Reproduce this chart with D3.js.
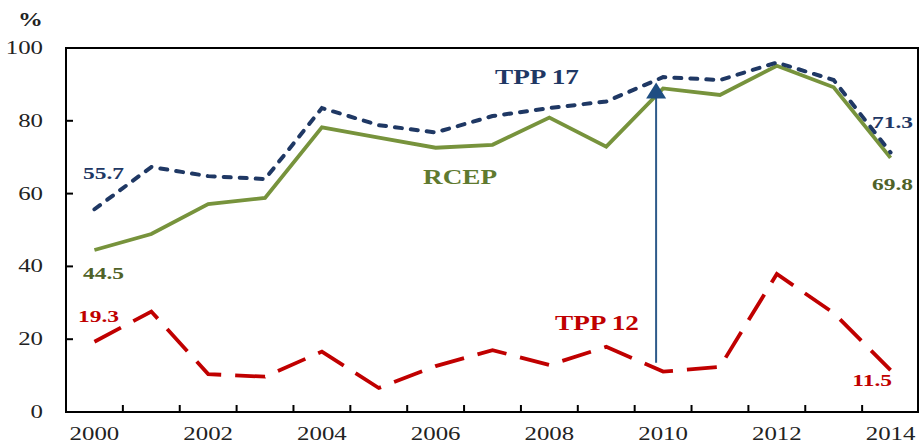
<!DOCTYPE html>
<html><head><meta charset="utf-8">
<script src="https://cdn.jsdelivr.net/npm/d3@7"></script>
<style>html,body{margin:0;padding:0;background:#fff;}svg{display:block;}</style>
</head><body>
<svg id="chart" width="920" height="444"></svg>
<script>
const years = [2000,2001,2002,2003,2004,2005,2006,2007,2008,2009,2010,2011,2012,2013,2014];
const tpp17 = [55.7,67.3,64.8,64.0,83.5,78.8,76.8,81.3,83.5,85.3,92.0,91.2,96.0,91.2,71.3];
const rcep  = [44.5,48.9,57.1,58.8,78.2,75.4,72.6,73.4,80.9,72.9,88.9,87.1,95.1,89.2,69.8];
const tpp12 = [19.3,27.6,10.4,9.7,16.6,6.6,12.6,17.0,12.9,17.9,11.1,12.4,37.9,27.2,11.5];
const xTickLabels = [2000,2002,2004,2006,2008,2010,2012,2014];
const yTicks = [0,20,40,60,80,100];
const arrowYear = 2010, arrowFrom = 13.5, arrowTo = 90.5;

const W = 920, H = 444;
const m = {left:66, right:1, top:48, bottom:32};
const svg = d3.select('#chart');
const x = d3.scaleBand().domain(years).range([m.left, W - m.right]).paddingInner(0).paddingOuter(0);
const y = d3.scaleLinear().domain([0,100]).range([H - m.bottom, m.top]);
const cx = d => x(d) + x.bandwidth()/2;
const SX = 1.38;
const serif = "'Liberation Serif','Times New Roman',serif";

function txt(xp, yp, s, opts) {
  const o = Object.assign({size:18, weight:'normal', fill:'#222', anchor:'start', sx:SX}, opts||{});
  svg.append('text')
    .attr('transform', `translate(${xp},${yp}) scale(${o.sx},1)`)
    .attr('text-anchor', o.anchor)
    .attr('font-family', serif)
    .attr('font-size', o.size)
    .attr('font-weight', o.weight)
    .attr('fill', o.fill)
    .text(s);
}

// frame
const x0 = x.range()[0], x1 = x.range()[1];
svg.append('rect').attr('x', x0).attr('y', y(100)).attr('width', x1 - x0 - 1).attr('height', y(0) - y(100))
  .attr('fill','none').attr('stroke','#000').attr('stroke-width',2);

// y ticks (inward) and labels
yTicks.forEach(v => {
  svg.append('line').attr('x1', x0).attr('x2', x0 + 7).attr('y1', y(v)).attr('y2', y(v))
    .attr('stroke','#000').attr('stroke-width',2);
  txt(43, y(v) + 6, String(v), {anchor:'end'});
});
txt(18, 26, '%', {weight:'bold', size:18});

// x ticks at band boundaries (upward)
years.slice(1).forEach(yr => {
  svg.append('line').attr('x1', x(yr)).attr('x2', x(yr)).attr('y1', y(0)).attr('y2', y(0) - 7)
    .attr('stroke','#000').attr('stroke-width',2);
});
xTickLabels.forEach(yr => txt(cx(yr), y(0) + 28, String(yr), {anchor:'middle'}));

// lines
const line = d3.line().x((d,i) => cx(years[i])).y(d => y(d));
svg.append('path').datum(rcep).attr('d', line).attr('fill','none')
  .attr('stroke','#77933c').attr('stroke-width',3.8).attr('stroke-linejoin','miter');
svg.append('path').datum(tpp17).attr('d', line).attr('fill','none')
  .attr('stroke','#1f3864').attr('stroke-width',4).attr('stroke-dasharray','7,9').attr('stroke-linecap','round');
svg.append('path').datum(tpp12).attr('d', line).attr('fill','none')
  .attr('stroke','#c00000').attr('stroke-width',3.8).attr('stroke-dasharray','30,14');

// arrow
const ax = cx(arrowYear) - 7;
svg.append('line').attr('x1', ax).attr('x2', ax).attr('y1', y(arrowFrom)).attr('y2', y(arrowTo) + 14)
  .attr('stroke','#2e5a8a').attr('stroke-width',2);
svg.append('path').attr('d', `M${ax},${y(arrowTo)} L${ax-10},${y(arrowTo)+16} L${ax+10},${y(arrowTo)+16} Z`)
  .attr('fill','#1f4e82');

// series labels
txt(495, 84, 'TPP 17', {weight:'bold', size:20, fill:'#1f3864', sx:1.36});
txt(423, 184, 'RCEP', {weight:'bold', size:20, fill:'#5f7a2f', sx:1.36});
txt(555, 330, 'TPP 12', {weight:'bold', size:20, fill:'#c00000', sx:1.36});

// value labels
txt(83, 179, '55.7', {weight:'bold', size:17, fill:'#1f3864'});
txt(83, 279, '44.5', {weight:'bold', size:17, fill:'#4f6228'});
txt(78, 322, '19.3', {weight:'bold', size:17, fill:'#c00000'});
txt(913, 128, '71.3', {weight:'bold', size:17, fill:'#1f3864', anchor:'end'});
txt(913, 190, '69.8', {weight:'bold', size:17, fill:'#4f6228', anchor:'end'});
txt(892, 386, '11.5', {weight:'bold', size:17, fill:'#c00000', anchor:'end'});
</script>
</body></html>
